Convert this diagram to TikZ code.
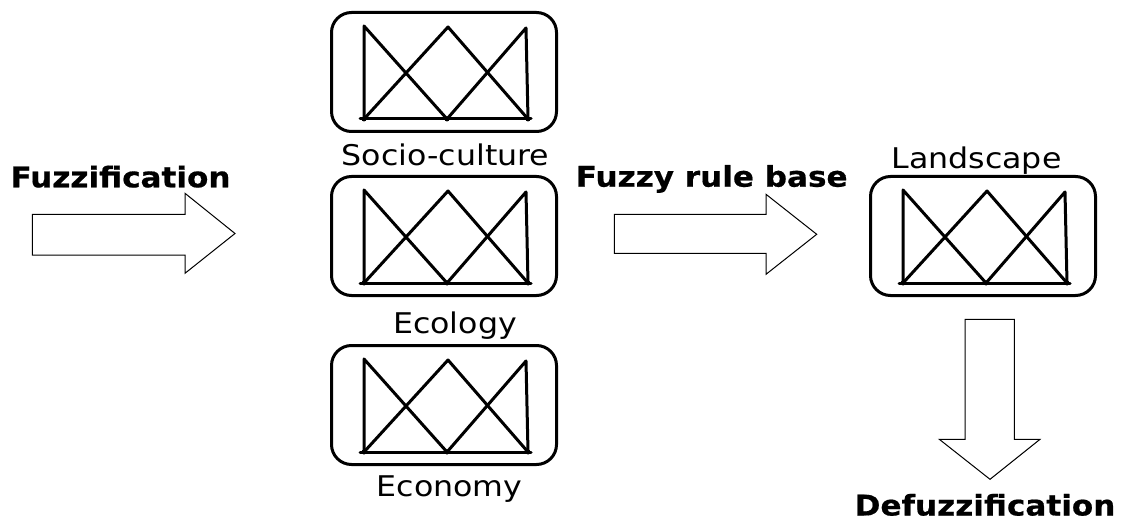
\documentclass[tikz,border=0pt]{standalone}
\usepackage{fontspec}
\setmainfont{DejaVu Sans}
\newfontfamily\regfont{DejaVu Sans}[FakeStretch=1.11]
\newfontfamily\boldfont{DejaVu Sans Bold}[FakeStretch=1.09, FakeBold=0.6]
\begin{document}
\begin{tikzpicture}[x=1pt,y=-1pt]
\tikzset{
  fbox/.style={draw, line width=3pt, rounded corners=20pt, minimum width=225pt, minimum height=119pt, inner sep=0pt},
  lbl/.style={anchor=base, inner sep=0pt, font=\fontsize{28.5}{30}\regfont},
  blbl/.style={anchor=base, inner sep=0pt, font=\fontsize{28.5}{30}\boldfont},
  barrow/.style={draw, line width=1pt, fill=white, line join=miter},
  mfline/.style={line width=3pt, line join=round, line cap=round},
  mf/.pic={
    \draw[mfline] (-84,47) -- (87,47);
    \draw[mfline] (-80,47) -- (-80,-46) -- (3,47);
    \draw[mfline] (-80,47) -- (4,-45) -- (84,47);
    \draw[mfline] (3,47) -- (82,-44) -- (84,47);
    \fill (-80,47) circle (2.5pt) (3,47) circle (2.5pt) (84,47) circle (2.5pt);
  }
}
\useasboundingbox (0,0) rectangle (1123,521);

% boxes
\node[fbox] (socio) at (444,72) {};
\node[fbox] (eco) at (444,236) {};
\node[fbox] (econ) at (444,405) {};
\node[fbox] (land) at (983,236) {};
\pic at (socio.center) {mf};
\pic at (eco.center) {mf};
\pic at (econ.center) {mf};
\pic at (land.center) {mf};

% labels
\node[lbl] (lsocio) at (445.5,166) {Socio-culture};
\node[lbl] (leco) at (455,333.3) {Ecology};
\node[lbl] (lecon) at (449.5,496.7) {Economy};
\node[lbl] (lland) at (976.5,168.3) {Landscape};
\node[blbl] (lfuzz) at (120.5,187.3) {Fuzzification};
\node[blbl] (lrule) at (711.7,186.7) {Fuzzy rule base};
\node[blbl] (ldefuzz) at (985,515.5) {Defuzzification};

% block arrows
\draw[barrow] (32.3,214.3) -- (185,214.3) -- (185,193.3) -- (235,233.5) -- (185,273.3) -- (185,255) -- (32.3,255) -- cycle;
\draw[barrow] (614.3,214.3) -- (766,214.3) -- (766,194.3) -- (816.7,234.3) -- (766,274.3) -- (766,253.3) -- (614.3,253.3) -- cycle;
\draw[barrow] (965,319.3) -- (1014.3,319.3) -- (1014.3,439.3) -- (1040,439.3) -- (990,479.3) -- (939.3,439.3) -- (965,439.3) -- cycle;
\end{tikzpicture}
\end{document}
